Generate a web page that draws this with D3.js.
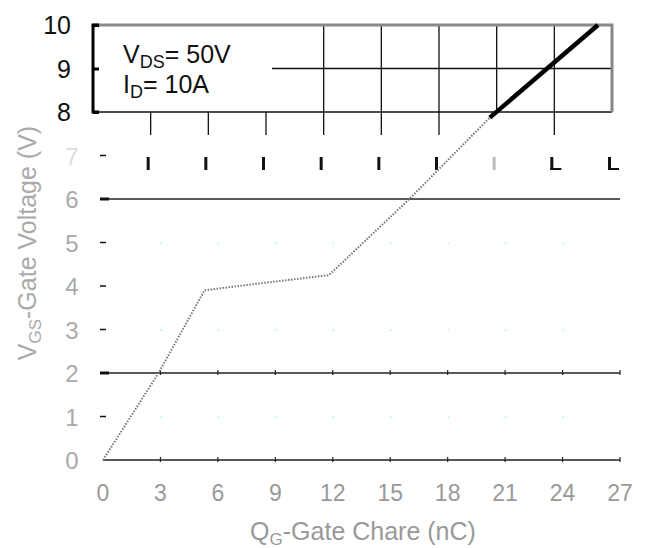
<!DOCTYPE html>
<html>
<head>
<meta charset="utf-8">
<script src="https://cdn.jsdelivr.net/npm/d3@7"></script>
<style>
  body { margin: 0; background: #fff; }
  svg { font-family: "Liberation Sans", Arial, sans-serif; }
</style>
</head>
<body>
<div id="chart"></div>
<script>
// gate charge data
const qgLow = [0, 2.9, 5.3, 8, 11.8, 16, 20.2];
const vgsLow = [0, 2, 3.9, 4.05, 4.25, 6, 7.87];
const qgHigh = [20.2, 25.85];
const vgsHigh = [7.87, 10];

const xTicks = [0, 3, 6, 9, 12, 15, 18, 21, 24, 27];
const yTicksTop = [8, 9, 10];
const yTicksLow = [0, 1, 2, 3, 4, 5, 6, 7];
const noteLines = [["V", "DS", "= 50V"], ["I", "D", "= 10A"]];

const width = 655, height = 548;

const svg = d3.select("#chart").append("svg")
  .attr("width", width).attr("height", height);

// main scales
const x = d3.scaleLinear().domain([0, 27]).range([103, 620]);
const y = d3.scaleLinear().domain([0, 10]).range([460, 25]);
// the upper box is shifted a bit to the left
const xTop = d3.scaleLinear().domain([0, 27]).range([93, 612]);

// top box: vertical grid
svg.append("g").selectAll("line")
  .data(xTicks.filter(d => d > 0 && d < 27))
  .enter().append("line")
    .attr("x1", d => xTop(d)).attr("x2", d => xTop(d))
    .attr("y1", d => d >= 12 ? y(10) : y(8))
    .attr("y2", d => d == 21 ? y(8) : y(8) + 23)
    .attr("stroke", "#111").attr("stroke-width", 1.3);

// top box horizontal lines
svg.append("line")
  .attr("x1", 272).attr("x2", xTop(27))
  .attr("y1", y(9)).attr("y2", y(9))
  .attr("stroke", "#111").attr("stroke-width", 1.3);
svg.append("line")
  .attr("x1", xTop(0)).attr("x2", xTop(27))
  .attr("y1", y(8)).attr("y2", y(8))
  .attr("stroke", "#111").attr("stroke-width", 1.3);

// gray frame top and right
svg.append("path")
  .attr("d", `M${xTop(0)},${y(10)}H${xTop(27)}V${y(8)}`)
  .attr("fill", "none").attr("stroke", "#888").attr("stroke-width", 3);

// left axis of the top box
svg.append("g")
  .attr("transform", `translate(${xTop(0)},0)`)
  .call(d3.axisRight(y).tickValues(yTicksTop).tickSize(6).tickFormat(""))
  .call(g => g.selectAll("path,line").attr("stroke", "#000").attr("stroke-width", 3))
  .call(g => g.select(".domain").attr("d", `M6,${y(10)}H0V${y(8)}H6`));

svg.append("g").selectAll("text")
  .data(yTicksTop).enter().append("text")
    .attr("x", 71).attr("y", d => y(d) + 9)
    .attr("text-anchor", "end")
    .attr("font-size", 25).attr("fill", "#111")
    .text(d => d);

// annotation
noteLines.forEach((l, i) => {
  const t = svg.append("text")
    .attr("x", 123).attr("y", 63 + i * 30)
    .attr("font-size", 25).attr("fill", "#111");
  t.append("tspan").text(l[0]);
  t.append("tspan").attr("font-size", 18).attr("dy", 5).text(l[1]);
  t.append("tspan").attr("dy", -5).text(l[2]);
});

// broken tick marks under the box
const marks = svg.append("g");
xTicks.filter(d => d > 0).forEach(d => {
  marks.append("rect")
    .attr("x", xTop(d) - 4).attr("y", 157)
    .attr("width", 3).attr("height", 13)
    .attr("fill", d == 21 ? "#bbb" : "#111");
  if (d >= 24) {
    marks.append("rect")
      .attr("x", xTop(d) - 4).attr("y", 168)
      .attr("width", 11).attr("height", 2)
      .attr("fill", "#111");
  }
});

// lower part: horizontal lines at 6, 2 and 0
[6, 2, 0].forEach(v => {
  svg.append("line")
    .attr("x1", x(0)).attr("x2", x(27))
    .attr("y1", y(v)).attr("y2", y(v))
    .attr("stroke", "#222").attr("stroke-width", 1.5);
});

// small tick marks on lines 2 and 0
svg.append("g").selectAll("line")
  .data(xTicks.flatMap(t => [[t, 2], [t, 0]]).filter(d => d[0] > 0))
  .enter().append("line")
    .attr("x1", d => x(d[0])).attr("x2", d => x(d[0]))
    .attr("y1", d => y(d[1]) - 3).attr("y2", d => y(d[1]) + 2)
    .attr("stroke", "#222").attr("stroke-width", 1.2);

// faint grid remnants
svg.append("g").selectAll("rect")
  .data(xTicks.filter(d => d > 0 && d < 27).flatMap(t => [1, 3, 5].map(v => [t, v])))
  .enter().append("rect")
    .attr("x", d => x(d[0])).attr("y", d => y(d[1]))
    .attr("width", 1.2).attr("height", 1.2)
    .attr("fill", "#7ee");

// left ticks
svg.append("g").selectAll("line")
  .data(yTicksLow.slice(1))
  .enter().append("line")
    .attr("x1", 100).attr("x2", d => d == 2 || d == 6 ? 109 : 106)
    .attr("y1", d => y(d)).attr("y2", d => y(d))
    .attr("stroke", "#111").attr("stroke-width", d => d == 2 || d == 6 ? 3 : 1.5);

// lower y tick labels, washed out
svg.append("g").selectAll("text")
  .data(yTicksLow).enter().append("text")
    .attr("x", 72).attr("y", d => y(d) + 9)
    .attr("text-anchor", "middle")
    .attr("font-size", 24)
    .attr("fill", d => d == 7 ? "#ddd" : "#aaa")
    .text(d => d);

// x tick labels
svg.append("g").selectAll("text")
  .data(xTicks).enter().append("text")
    .attr("x", d => x(d)).attr("y", 501)
    .attr("text-anchor", "middle")
    .attr("font-size", 23).attr("fill", "#999")
    .text(d => d);

// axis titles
const xt = svg.append("text")
  .attr("x", 363).attr("y", 540)
  .attr("text-anchor", "middle")
  .attr("font-size", 25).attr("fill", "#999");
xt.append("tspan").text("Q");
xt.append("tspan").attr("font-size", 17).attr("dy", 5).text("G");
xt.append("tspan").attr("dy", -5).text("-Gate Chare (nC)");

const yt = svg.append("text")
  .attr("transform", "translate(36,243) rotate(-90)")
  .attr("text-anchor", "middle")
  .attr("font-size", 25).attr("fill", "#aaa");
yt.append("tspan").text("V");
yt.append("tspan").attr("font-size", 17).attr("dy", 5).text("GS");
yt.append("tspan").attr("dy", -5).text("-Gate Voltage (V)");

// curve
const line = d3.line().x(d => x(d[0])).y(d => y(d[1]));

svg.append("path")
  .datum(d3.zip(qgLow, vgsLow))
  .attr("d", line)
  .attr("fill", "none")
  .attr("stroke", "#777").attr("stroke-width", 2)
  .attr("stroke-dasharray", "1.5,1.5");

svg.append("path")
  .datum(d3.zip(qgHigh, vgsHigh))
  .attr("d", line)
  .attr("fill", "none")
  .attr("stroke", "#000").attr("stroke-width", 4.5);
</script>
</body>
</html>
